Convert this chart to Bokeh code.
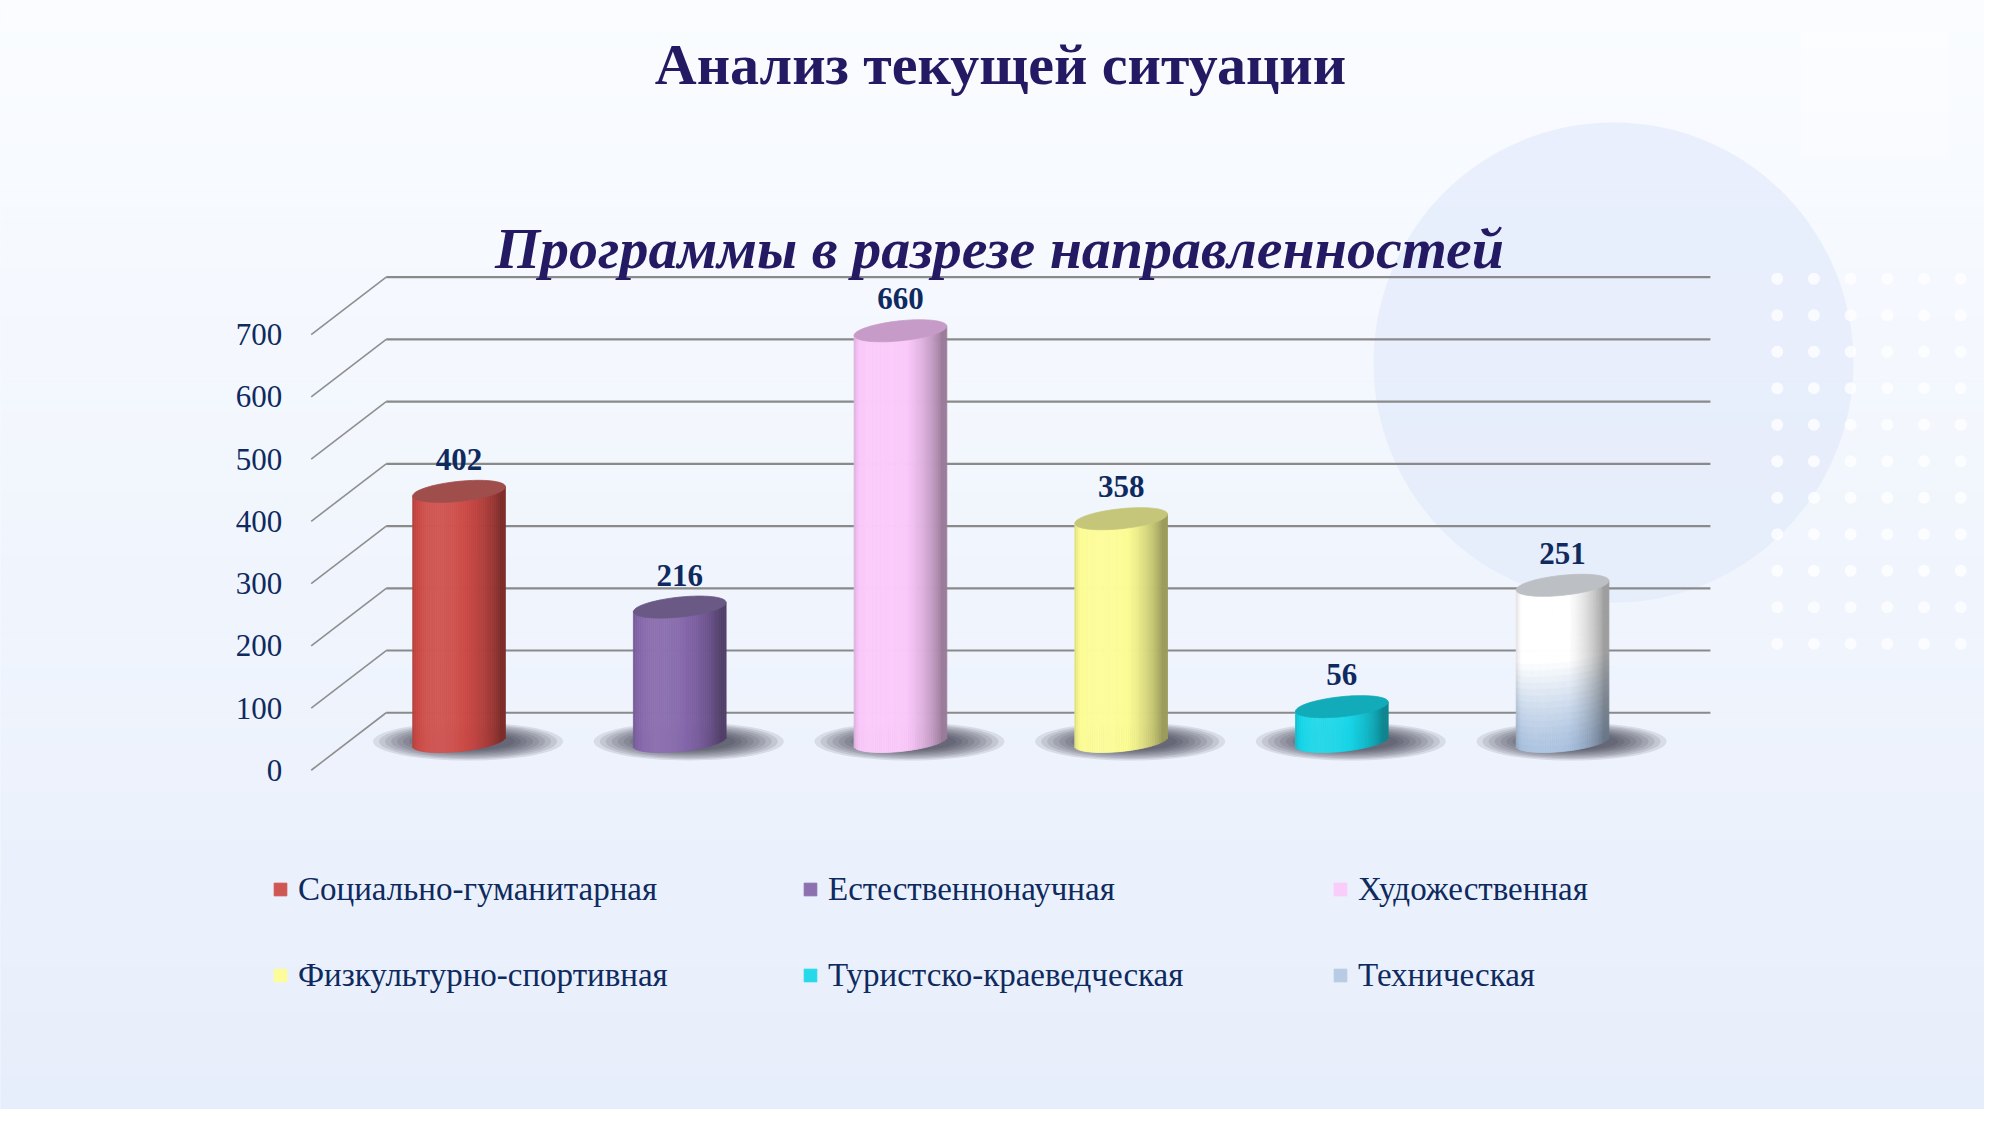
import numpy as np
from bokeh.plotting import figure
from bokeh.models import Range1d, ColumnDataSource, Label, Legend, LegendItem
from bokeh.core.properties import value
from bokeh.embed import file_html
from bokeh.resources import INLINE

# ---------------- data ----------------
categories = ["Социально-гуманитарная", "Естественнонаучная", "Художественная",
              "Физкультурно-спортивная", "Туристско-краеведческая", "Техническая"]
counts = [402, 216, 660, 358, 56, 251]
y_ticks = [0, 100, 200, 300, 400, 500, 600, 700]
tick_labels = ["0", "100", "200", "300", "400", "500", "600", "700"]
title_text = "Анализ текущей ситуации"
subtitle_text = "Программы в разрезе направленностей"

# ---------------- style ----------------
body_colors = ["#cc4a46", "#8466aa", "#fac8fa", "#fcfc94", "#16d6e8", "#ffffff"]
top_colors = ["#a04e4c", "#6b5985", "#c79bc7", "#c6c67a", "#12abb9", "#bcbfc3"]
TEXT_NAVY = "#0e2a5e"
TITLE_COL = "#231a63"
SERIF = "Liberation Serif"

W, H = 1984, 1109
PX_CAT = 220.7      # px per category (mid depth)
PX_VAL = 0.6223     # px per value unit
X0 = 348.2          # px of category-0 left edge (mid depth)
Y0 = 741.0          # px from top of value 0 (mid depth)
DEPTH_X, DEPTH_Y = 37.5, 28.75
CYL_A = 46.35       # half width of cylinder, px
CYL_B = 10.0        # half height of ellipse, px
TILT = 0.1


def X(px):
    return (px - X0) / PX_CAT


def Y(py):
    return (Y0 - py) / PX_VAL


def dxu(px):
    return px / PX_CAT


def dyu(px):
    return px / PX_VAL


def hex2rgb(h):
    h = h.lstrip("#")
    return np.array([int(h[i:i + 2], 16) for i in (0, 2, 4)], dtype=float)


def rgb2hex(c):
    c = np.clip(np.round(c), 0, 255).astype(int)
    return "#%02x%02x%02x" % tuple(c)


def shade(rgb, I):
    if I <= 1:
        return rgb * I
    return rgb + (255 - rgb) * (I - 1)


p = figure(width=W, height=H, x_range=Range1d(X(0), X(W)), y_range=Range1d(Y(H), Y(0)),
           output_backend="svg", toolbar_location=None, min_border=0,
           x_axis_location=None, y_axis_location=None, outline_line_color=None,
           background_fill_color="#f1f5fd", border_fill_color="#f1f5fd")
p.grid.visible = False

# ---------------- background gradient ----------------
nb = 70
edges = np.linspace(0, H, nb + 1)
c_top, c_bot = hex2rgb("#fafcff"), hex2rgb("#e7eefb")
cols = [rgb2hex(c_top + (c_bot - c_top) * (k + 0.5) / nb) for k in range(nb)]
p.quad(left=X(0), right=X(W), top=[Y(e) for e in edges[:-1]], bottom=[Y(e) for e in edges[1:]],
       fill_color=cols, line_color=cols, line_width=1)

# decorative shapes
p.quad(left=X(1800), right=X(1947), top=Y(30), bottom=Y(157), fill_color="white", fill_alpha=0.3, line_color=None)
p.circle(x=[X(1613)], y=[Y(362)], radius=dxu(240), fill_color="#dfe8fa", fill_alpha=0.6, line_color=None)
p.circle(x=[X(10)], y=[Y(1130)], radius=dxu(551), fill_color="#d4e0f9", fill_alpha=0.65, line_color=None)
p.circle(x=[X(-65)], y=[Y(1190)], radius=dxu(237), fill_color="#eef3fd", fill_alpha=0.75, line_color=None)
dx_, dy_ = [], []
for i in range(11):
    for j in range(7):
        dx_.append(X(1776.7 + 36.7 * j))
        dy_.append(Y(278.3 + 36.5 * i))
p.circle(x=dx_, y=dy_, radius=dxu(6), fill_color="white", fill_alpha=0.75, line_color=None)

# ---------------- walls: grid lines & diagonals ----------------
n = len(categories)
gx0 = dxu(DEPTH_X)
gx1 = n + dxu(DEPTH_X)
gy = [t + dyu(DEPTH_Y) for t in y_ticks]
p.segment(x0=[gx0] * len(y_ticks), x1=[gx1] * len(y_ticks), y0=gy, y1=gy,
          line_color="#8a8a8a", line_width=2.2)
fy = [t - dyu(DEPTH_Y) for t in y_ticks]
p.segment(x0=[-dxu(DEPTH_X)] * len(y_ticks), x1=[gx0] * len(y_ticks), y0=fy, y1=gy,
          line_color="#8f8f8f", line_width=1.6)
p.text(x=[-dxu(DEPTH_X)] * len(y_ticks), y=fy, text=tick_labels, x_offset=-29,
       text_font=value(SERIF), text_font_size="31px", text_color=TEXT_NAVY,
       text_align="right", text_baseline="middle")

# ---------------- cylinders ----------------
phiL = -0.45
legend_items = []
for i, (name, v) in enumerate(zip(categories, counts)):
    cx = i + 0.5
    # soft shadow behind the base
    for k in range(9):
        w = 190 - k * 12
        h = 38 - k * 2.6
        p.ellipse(x=[cx + dxu(9)], y=[dyu(0)], width=dxu(w), height=dyu(h),
                  fill_color="#1c2030", fill_alpha=0.105, line_color=None)
    N = 48
    ue = np.linspace(-CYL_A, CYL_A, N + 1)
    base = hex2rgb(body_colors[i])
    L, R, T, B, C = [], [], [], [], []
    for s in range(N):
        uc = 0.5 * (ue[s] + ue[s + 1])
        sn = uc / CYL_A
        phi = np.arcsin(np.clip(sn, -1, 1))
        I = 0.62 + 0.46 * max(0.0, np.cos(phi - phiL))
        top_v = v + dyu(TILT * uc)
        bot_v = dyu(TILT * uc - CYL_B * np.sqrt(max(0.0, 1 - sn * sn)))
        if i == 5:
            M = 26
            vb = np.linspace(bot_v, top_v, M + 1)
            blue = hex2rgb("#a9c1df")
            for m in range(M):
                f = (m + 0.5) / M
                t = min(1.0, f / 0.55)
                col = blue + (base - blue) * (t ** 1.3)
                L.append(cx + dxu(ue[s])); R.append(cx + dxu(ue[s + 1]))
                B.append(vb[m]); T.append(vb[m + 1])
                C.append(rgb2hex(shade(col, I)))
        else:
            L.append(cx + dxu(ue[s])); R.append(cx + dxu(ue[s + 1]))
            B.append(bot_v); T.append(top_v)
            C.append(rgb2hex(shade(base, I)))
    src = ColumnDataSource(dict(left=L, right=R, top=T, bottom=B, color=C))
    r = p.quad(left="left", right="right", top="top", bottom="bottom", source=src,
               fill_color="color", line_color="color", line_width=0.8)
    idx = int(N * 0.4) if i != 5 else int(N * 0.4) * 26 + 2
    legend_items.append(LegendItem(label=name, renderers=[r], index=idx))
    # top ellipse
    tt = np.linspace(0, 2 * np.pi, 90)
    xs = cx + dxu(CYL_A * np.cos(tt))
    ys = v + dyu(CYL_B * np.sin(tt) + TILT * CYL_A * np.cos(tt))
    p.patch(x=list(xs), y=list(ys), fill_color=top_colors[i], line_color=top_colors[i], line_width=0.8)

# value labels
p.text(x=[i + 0.5 for i in range(n)], y=counts, text=[str(c) for c in counts], y_offset=-32,
       text_font=value(SERIF), text_font_style="bold", text_font_size="31px",
       text_color=TEXT_NAVY, text_align="center", text_baseline="middle")

# ---------------- titles ----------------
p.add_layout(Label(x=1000, y=H - 64, x_units="screen", y_units="screen", text=title_text,
                   text_font=SERIF, text_font_style="bold", text_font_size="58px",
                   text_color=TITLE_COL, text_align="center", text_baseline="alphabetic"))
p.add_layout(Label(x=999, y=H - 248, x_units="screen", y_units="screen", text=subtitle_text,
                   text_font=SERIF, text_font_style="bold italic", text_font_size="58px",
                   text_color=TITLE_COL, text_align="center", text_baseline="alphabetic"))

# ---------------- legend ----------------
legend = Legend(items=legend_items, orientation="horizontal", ncols=3, location=(272, 115),
                glyph_width=16, glyph_height=16, label_standoff=10, label_width=456,
                label_height=38, spacing=48, padding=0, margin=0,
                border_line_color=None, background_fill_alpha=0,
                label_text_font=SERIF, label_text_font_size="33px", label_text_color=TEXT_NAVY)
p.add_layout(legend)

open("out.html", "w").write(file_html(p, INLINE))
